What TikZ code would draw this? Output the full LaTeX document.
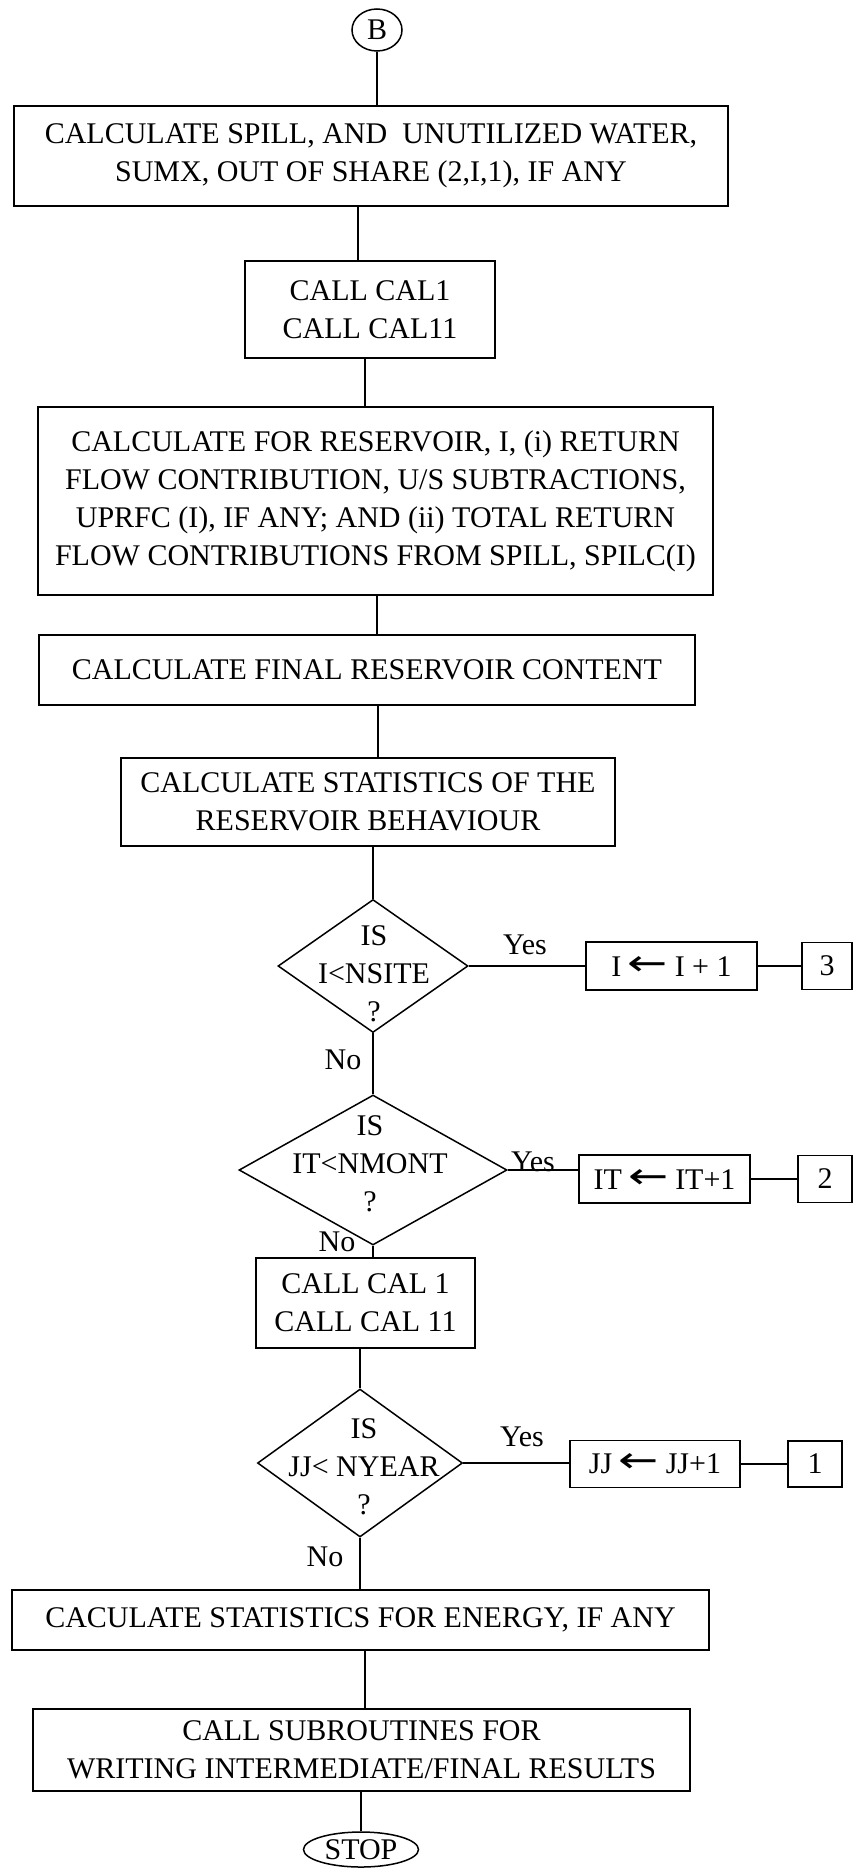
\documentclass[tikz,border=0pt]{standalone}
\usepackage{fontspec}
\setmainfont{Liberation Serif}
\newfontfamily\arrowfont{DejaVu Sans}
\usetikzlibrary{shapes.geometric}

\tikzset{
  every node/.style={font=\fontsize{30}{38}\selectfont, inner sep=0pt},
  proc/.style={draw, line width=1.5pt, rectangle, align=center},
  decide/.style={draw, line width=1.5pt, diamond},
  term/.style={draw, line width=1.5pt, ellipse},
  qtext/.style={align=center},
  link/.style={line width=1.5pt},
}
% assignment arrow used in the counter boxes
\newcommand{\getsarrow}{\hspace{0.22em}\raisebox{1pt}{\scalebox{1.6}[1.2]{\arrowfont ←}}\hspace{0.22em}}

\begin{document}
\begin{tikzpicture}[x=1pt,y=-1pt]
\useasboundingbox (0,0) rectangle (858,1868);

% main column
\node[term, minimum width=50pt, minimum height=42pt] (B) at (377,30) {B};
\node[proc, minimum width=714pt, minimum height=100pt] (spill) at (371,156)
  {CALCULATE SPILL, AND \ UNUTILIZED WATER,\\SUMX, OUT OF SHARE (2,I,1), IF ANY};
\node[proc, minimum width=250pt, minimum height=97pt] (cal) at (370,309.5)
  {CALL CAL1\\CALL CAL11};
\node[proc, minimum width=675pt, minimum height=188pt] (ret) at (375.5,501)
  {CALCULATE FOR RESERVOIR, I, (i) RETURN\\FLOW CONTRIBUTION, U/S SUBTRACTIONS,\\UPRFC (I), IF ANY; AND (ii) TOTAL RETURN\\FLOW CONTRIBUTIONS FROM SPILL, SPILC(I)};
\node[proc, minimum width=656pt, minimum height=70pt] (final) at (367,670)
  {CALCULATE FINAL RESERVOIR CONTENT};
\node[proc, minimum width=494pt, minimum height=88pt] (stat) at (368,802)
  {CALCULATE STATISTICS OF THE\\RESERVOIR BEHAVIOUR};

% site loop
\node[decide, minimum width=190pt, minimum height=133pt] (qsite) at (373,966) {};
\node[qtext] (qsite-t) at (374,974) {IS\\I<NSITE\\?};
\node[proc, minimum width=171pt, minimum height=48pt] (inc3) at (671.5,966) {I\getsarrow I + 1};
\node[proc, minimum width=50pt, minimum height=47pt] (c3) at (827,966) {3};

% month loop
\node[decide, minimum width=268pt, minimum height=150pt] (qmont) at (373,1170) {};
\node[qtext] (qmont-t) at (370,1164) {IS\\IT<NMONT\\?};
\node[proc, minimum width=171pt, minimum height=48pt] (inc2) at (664.5,1179) {IT\getsarrow IT+1};
\node[proc, minimum width=54pt, minimum height=47pt] (c2) at (825,1179) {2};

\node[proc, minimum width=219pt, minimum height=90pt] (cal2) at (365.5,1303)
  {CALL CAL 1\\CALL CAL 11};

% year loop
\node[decide, minimum width=205pt, minimum height=148pt] (qyear) at (360,1463) {};
\node[qtext] (qyear-t) at (364,1467) {IS\\JJ< NYEAR\\?};
\node[proc, minimum width=170pt, minimum height=47pt] (inc1) at (655,1464) {JJ\getsarrow JJ+1};
\node[proc, minimum width=54pt, minimum height=46pt] (c1) at (815,1464) {1};

\node[proc, minimum width=697pt, minimum height=60pt] (energy) at (360.5,1620)
  {CACULATE STATISTICS FOR ENERGY, IF ANY};
\node[proc, minimum width=657pt, minimum height=82pt] (write) at (361.5,1750)
  {CALL SUBROUTINES FOR\\WRITING INTERMEDIATE/FINAL RESULTS};
\node[term, minimum width=115pt, minimum height=35pt] (stop) at (361,1849.5) {STOP};

% branch labels
\node (yes3) at (525,945) {Yes};
\node (yes2) at (533,1162) {Yes};
\node (yes1) at (522,1437) {Yes};
\node (no3) at (343,1060) {No};
\node (no2) at (337,1242) {No};
\node (no1) at (325,1557) {No};

% connectors
\draw[link] (B.south) -- (B.south |- spill.north);
\draw[link] ([xshift=-13pt]spill.south) -- ([xshift=-13pt]spill.south |- cal.north);
\draw[link] ([xshift=-5pt]cal.south) -- ([xshift=-5pt]cal.south |- ret.north);
\draw[link] ([xshift=1.5pt]ret.south) -- ([xshift=1.5pt]ret.south |- final.north);
\draw[link] ([xshift=11pt]final.south) -- ([xshift=11pt]final.south |- stat.north);
\draw[link] (qsite.north |- stat.south) -- (qsite.north);
\draw[link] (qsite.south) -- (qmont.north);
\draw[link] (qmont.south) -- (qmont.south |- cal2.north);
\draw[link] (qyear.north |- cal2.south) -- (qyear.north);
\draw[link] (qyear.south) -- (qyear.south |- energy.north);
\draw[link] ([xshift=4.5pt]energy.south) -- ([xshift=4.5pt]energy.south |- write.north);
\draw[link] (stop.north |- write.south) -- (stop.north);

\draw[link] (qsite.east) -- (inc3.west);
\draw[link] (inc3.east) -- (c3.west);
\draw[link] (qmont.east) -- (qmont.east -| inc2.west);
\draw[link] (inc2.east) -- (c2.west);
\draw[link] (qyear.east) -- (qyear.east -| inc1.west);
\draw[link] (inc1.east) -- (c1.west);
\end{tikzpicture}
\end{document}
